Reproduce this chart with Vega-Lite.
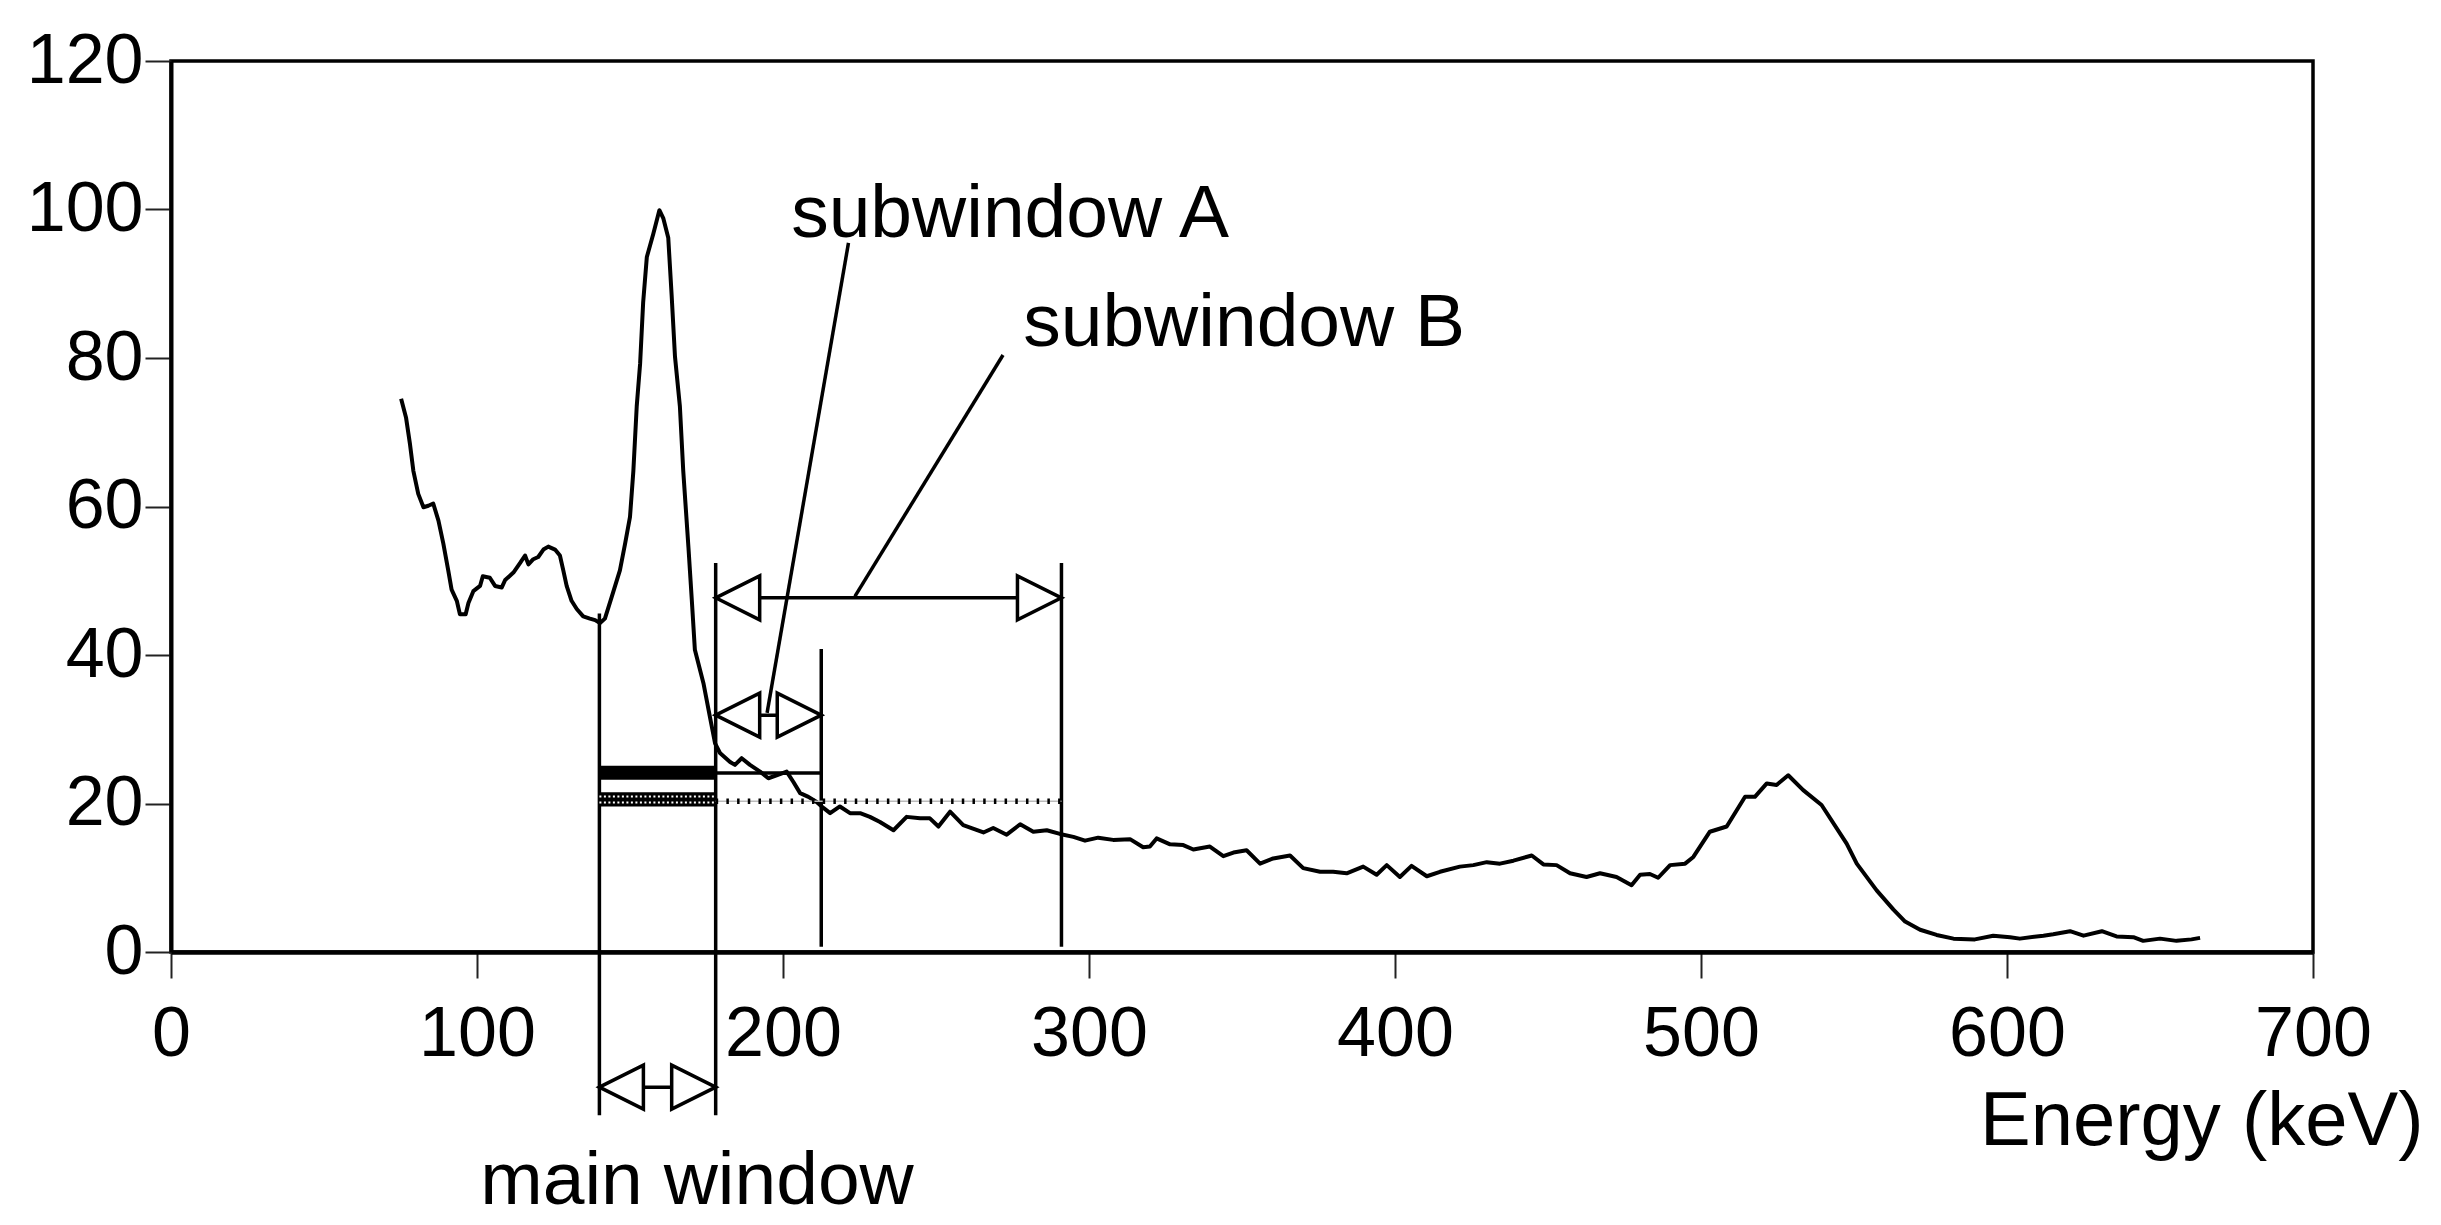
{
  "$schema": "https://vega.github.io/schema/vega-lite/v6.json",
  "autosize": {"type": "none"},
  "width": 2142,
  "height": 891,
  "padding": {"left": 171, "top": 61, "right": 128, "bottom": 273},
  "background": "white",
  "view": {"stroke": "black", "strokeWidth": 3.5},
  "config": {
    "font": "Liberation Sans",
    "axis": {"grid": false, "domainColor": "black", "tickColor": "#222222", "labelColor": "black", "labelFont": "Liberation Sans", "titleFont": "Liberation Sans"}
  },
  "datasets": {
    "spectrum": [
      {"energy": 75.2, "counts": 74.5}, {"energy": 76.8, "counts": 72.0}, {"energy": 78.1, "counts": 68.4}, {"energy": 79.2, "counts": 64.8},
      {"energy": 80.8, "counts": 61.7}, {"energy": 82.5, "counts": 59.9}, {"energy": 84.1, "counts": 60.1}, {"energy": 85.7, "counts": 60.4},
      {"energy": 87.4, "counts": 58.1}, {"energy": 89.0, "counts": 55.0}, {"energy": 90.6, "counts": 51.4}, {"energy": 91.7, "counts": 48.8},
      {"energy": 93.4, "counts": 47.3}, {"energy": 94.4, "counts": 45.5}, {"energy": 96.3, "counts": 45.5}, {"energy": 97.2, "counts": 47.0},
      {"energy": 98.8, "counts": 48.6}, {"energy": 101.0, "counts": 49.3}, {"energy": 101.9, "counts": 50.6}, {"energy": 104.2, "counts": 50.4},
      {"energy": 105.9, "counts": 49.3}, {"energy": 108.1, "counts": 49.1}, {"energy": 109.2, "counts": 50.1}, {"energy": 111.9, "counts": 51.1},
      {"energy": 114.1, "counts": 52.4}, {"energy": 115.7, "counts": 53.4}, {"energy": 116.8, "counts": 52.2}, {"energy": 118.4, "counts": 52.9},
      {"energy": 120.0, "counts": 53.2}, {"energy": 121.7, "counts": 54.2}, {"energy": 123.3, "counts": 54.6}, {"energy": 125.5, "counts": 54.2},
      {"energy": 127.1, "counts": 53.4}, {"energy": 128.2, "counts": 51.4}, {"energy": 129.3, "counts": 49.3}, {"energy": 130.9, "counts": 47.3},
      {"energy": 132.6, "counts": 46.2}, {"energy": 134.7, "counts": 45.2}, {"energy": 136.9, "counts": 44.9}, {"energy": 138.6, "counts": 44.7},
      {"energy": 140.2, "counts": 44.3}, {"energy": 141.8, "counts": 44.9}, {"energy": 144.0, "counts": 47.8}, {"energy": 146.7, "counts": 51.4},
      {"energy": 148.4, "counts": 55.0}, {"energy": 150.0, "counts": 58.6}, {"energy": 151.1, "counts": 64.8}, {"energy": 152.2, "counts": 73.5},
      {"energy": 153.3, "counts": 79.2}, {"energy": 154.3, "counts": 87.5}, {"energy": 155.5, "counts": 93.6}, {"energy": 157.6, "counts": 96.7},
      {"energy": 159.6, "counts": 99.9}, {"energy": 160.9, "counts": 98.8}, {"energy": 162.5, "counts": 96.2}, {"energy": 163.6, "counts": 88.5},
      {"energy": 164.7, "counts": 80.2}, {"energy": 166.3, "counts": 73.5}, {"energy": 167.4, "counts": 64.8}, {"energy": 169.1, "counts": 54.5},
      {"energy": 170.2, "counts": 47.4}, {"energy": 171.2, "counts": 40.7}, {"energy": 174.0, "counts": 36.2}, {"energy": 176.1, "counts": 31.7},
      {"energy": 177.8, "counts": 28.1}, {"energy": 179.4, "counts": 26.8}, {"energy": 182.7, "counts": 25.6}, {"energy": 184.3, "counts": 25.2},
      {"energy": 186.5, "counts": 26.1}, {"energy": 189.2, "counts": 25.2}, {"energy": 192.5, "counts": 24.3}, {"energy": 195.2, "counts": 23.4},
      {"energy": 197.9, "counts": 23.8}, {"energy": 201.2, "counts": 24.3}, {"energy": 203.4, "counts": 22.9}, {"energy": 205.6, "counts": 21.4},
      {"energy": 208.3, "counts": 20.9}, {"energy": 211.0, "counts": 20.2}, {"energy": 213.2, "counts": 19.4}, {"energy": 215.4, "counts": 18.7},
      {"energy": 218.6, "counts": 19.6}, {"energy": 221.9, "counts": 18.7}, {"energy": 225.2, "counts": 18.7}, {"energy": 228.4, "counts": 18.2},
      {"energy": 231.7, "counts": 17.5}, {"energy": 236.1, "counts": 16.4}, {"energy": 240.4, "counts": 18.2}, {"energy": 244.8, "counts": 18.0},
      {"energy": 248.0, "counts": 18.0}, {"energy": 250.8, "counts": 16.9}, {"energy": 254.6, "counts": 18.9}, {"energy": 258.9, "counts": 17.1},
      {"energy": 265.5, "counts": 16.1}, {"energy": 268.7, "counts": 16.7}, {"energy": 273.1, "counts": 15.8}, {"energy": 277.5, "counts": 17.2},
      {"energy": 281.8, "counts": 16.2}, {"energy": 286.2, "counts": 16.4}, {"energy": 290.5, "counts": 15.9}, {"energy": 294.9, "counts": 15.5},
      {"energy": 298.7, "counts": 15.0}, {"energy": 303.0, "counts": 15.4}, {"energy": 307.9, "counts": 15.1}, {"energy": 313.4, "counts": 15.2},
      {"energy": 317.7, "counts": 14.1}, {"energy": 319.9, "counts": 14.2}, {"energy": 322.1, "counts": 15.3}, {"energy": 326.5, "counts": 14.5},
      {"energy": 330.8, "counts": 14.4}, {"energy": 334.1, "counts": 13.8}, {"energy": 339.5, "counts": 14.2}, {"energy": 343.9, "counts": 12.9},
      {"energy": 347.2, "counts": 13.4}, {"energy": 351.5, "counts": 13.7}, {"energy": 355.9, "counts": 11.9}, {"energy": 360.2, "counts": 12.6},
      {"energy": 365.7, "counts": 13.0}, {"energy": 370.0, "counts": 11.3}, {"energy": 375.5, "counts": 10.8}, {"energy": 379.8, "counts": 10.8},
      {"energy": 384.2, "counts": 10.6}, {"energy": 389.6, "counts": 11.5}, {"energy": 394.0, "counts": 10.4}, {"energy": 397.3, "counts": 11.7},
      {"energy": 401.6, "counts": 10.1}, {"energy": 405.4, "counts": 11.6}, {"energy": 410.4, "counts": 10.2}, {"energy": 414.7, "counts": 10.8},
      {"energy": 421.2, "counts": 11.5}, {"energy": 425.6, "counts": 11.7}, {"energy": 430.0, "counts": 12.1}, {"energy": 434.3, "counts": 11.9},
      {"energy": 438.7, "counts": 12.3}, {"energy": 444.7, "counts": 13.0}, {"energy": 448.5, "counts": 11.8}, {"energy": 452.8, "counts": 11.7},
      {"energy": 457.2, "counts": 10.6}, {"energy": 462.6, "counts": 10.1}, {"energy": 467.0, "counts": 10.6}, {"energy": 472.4, "counts": 10.1},
      {"energy": 477.3, "counts": 9.0}, {"energy": 480.1, "counts": 10.4}, {"energy": 483.3, "counts": 10.5}, {"energy": 486.0, "counts": 10.0},
      {"energy": 489.9, "counts": 11.7}, {"energy": 494.8, "counts": 11.9}, {"energy": 497.5, "counts": 12.8}, {"energy": 502.9, "counts": 16.2},
      {"energy": 508.4, "counts": 16.9}, {"energy": 514.4, "counts": 20.9}, {"energy": 517.6, "counts": 20.9}, {"energy": 521.5, "counts": 22.7},
      {"energy": 524.7, "counts": 22.5}, {"energy": 528.5, "counts": 23.8}, {"energy": 533.4, "counts": 21.8}, {"energy": 539.4, "counts": 19.8},
      {"energy": 547.6, "counts": 14.6}, {"energy": 550.9, "counts": 11.9}, {"energy": 557.4, "counts": 8.3}, {"energy": 562.9, "counts": 5.7},
      {"energy": 566.7, "counts": 4.1}, {"energy": 571.6, "counts": 3.0}, {"energy": 577.0, "counts": 2.3}, {"energy": 582.5, "counts": 1.8},
      {"energy": 589.5, "counts": 1.7}, {"energy": 595.5, "counts": 2.2}, {"energy": 601.0, "counts": 2.0}, {"energy": 604.2, "counts": 1.8},
      {"energy": 611.9, "counts": 2.2}, {"energy": 615.1, "counts": 2.4}, {"energy": 620.6, "counts": 2.8}, {"energy": 625.0, "counts": 2.2},
      {"energy": 631.0, "counts": 2.8}, {"energy": 635.8, "counts": 2.1}, {"energy": 641.3, "counts": 2.0}, {"energy": 644.5, "counts": 1.5},
      {"energy": 650.0, "counts": 1.8}, {"energy": 655.4, "counts": 1.5}, {"energy": 660.3, "counts": 1.7}, {"energy": 663.1, "counts": 1.9}
    ],
    "vlines": [
      {"energy": 140, "counts": -22, "counts2": 45.6},
      {"energy": 178, "counts": -22, "counts2": 52.4},
      {"energy": 212.5, "counts": 0.7, "counts2": 40.8},
      {"energy": 291, "counts": 0.7, "counts2": 52.4}
    ],
    "shafts": [
      {"energy": 178, "energy2": 291, "counts": 47.7},
      {"energy": 178, "energy2": 212.5, "counts": 31.9},
      {"energy": 140, "energy2": 178, "counts": -18.2},
      {"energy": 178, "energy2": 212.5, "counts": 24.1}
    ],
    "heads": [
      {"energy": 178, "counts": 47.7, "dir": "left"},
      {"energy": 291, "counts": 47.7, "dir": "right"},
      {"energy": 178, "counts": 31.9, "dir": "left"},
      {"energy": 212.5, "counts": 31.9, "dir": "right"},
      {"energy": 140, "counts": -18.2, "dir": "left"},
      {"energy": 178, "counts": -18.2, "dir": "right"}
    ],
    "leaders": [
      {"energy": 194.8, "counts": 32.2, "energy2": 221.4, "counts2": 95.5},
      {"energy": 223.5, "counts": 47.9, "energy2": 271.9, "counts2": 80.4}
    ],
    "bars": [
      {"energy": 140, "energy2": 178, "counts": 23.2, "counts2": 25.1},
      {"energy": 140, "energy2": 178, "counts": 19.6, "counts2": 21.5}
    ],
    "hatch": [
      {"energy": 140, "energy2": 178, "counts": 20.15},
      {"energy": 140, "energy2": 178, "counts": 20.95}
    ],
    "dotted": [
      {"energy": 178, "energy2": 291, "counts": 20.3}
    ],
    "labels": [
      {"energy": 274.2, "counts": 96.3, "text": "subwindow A"},
      {"energy": 350.7, "counts": 81.6, "text": "subwindow B"},
      {"energy": 171.9, "counts": -34.0, "text": "main window"}
    ]
  },
  "layer": [
    {
      "data": {"name": "spectrum"},
      "mark": {"type": "line", "color": "black", "strokeWidth": 4, "strokeJoin": "round"},
      "encoding": {
        "x": {
          "field": "energy", "type": "quantitative",
          "scale": {"domain": [0, 700], "nice": false, "zero": false},
          "axis": {
            "title": "Energy (keV)", "titleFontSize": 76, "titleFontWeight": "normal", "titleColor": "black",
            "titleAnchor": "end", "titleAlign": "right", "titleBaseline": "alphabetic", "titleX": 2252, "titleY": 192,
            "values": [0, 100, 200, 300, 400, 500, 600, 700],
            "domainWidth": 4.5, "tickWidth": 2, "tickSize": 26,
            "labelFontSize": 70, "labelPadding": 22, "labelFlush": false, "labelOverlap": false, "labelBound": false
          }
        },
        "y": {
          "field": "counts", "type": "quantitative",
          "scale": {"domain": [0, 120], "nice": false, "zero": false},
          "axis": {
            "title": null,
            "values": [0, 20, 40, 60, 80, 100, 120],
            "domainWidth": 4, "tickWidth": 2, "tickSize": 26,
            "labelFontSize": 70, "labelPadding": 2, "labelFlush": false, "labelOverlap": false, "labelBound": false
          }
        }
      }
    },
    {
      "data": {"name": "vlines"},
      "mark": {"type": "rule", "color": "black", "strokeWidth": 3.5},
      "encoding": {
        "x": {"field": "energy", "type": "quantitative"},
        "y": {"field": "counts", "type": "quantitative"},
        "y2": {"field": "counts2"}
      }
    },
    {
      "data": {"name": "bars"},
      "mark": {"type": "rect", "color": "black"},
      "encoding": {
        "x": {"field": "energy", "type": "quantitative"},
        "x2": {"field": "energy2"},
        "y": {"field": "counts", "type": "quantitative"},
        "y2": {"field": "counts2"}
      }
    },
    {
      "data": {"name": "hatch"},
      "mark": {"type": "rule", "color": "white", "strokeWidth": 2, "strokeDash": [2, 2.5]},
      "encoding": {
        "x": {"field": "energy", "type": "quantitative"},
        "x2": {"field": "energy2"},
        "y": {"field": "counts", "type": "quantitative"}
      }
    },
    {
      "data": {"name": "dotted"},
      "mark": {"type": "rule", "color": "#bbbbbb", "strokeWidth": 1.5},
      "encoding": {
        "x": {"field": "energy", "type": "quantitative"},
        "x2": {"field": "energy2"},
        "y": {"field": "counts", "type": "quantitative"}
      }
    },
    {
      "data": {"name": "dotted"},
      "mark": {"type": "rule", "color": "black", "strokeWidth": 5.5, "strokeDash": [2.5, 8.2]},
      "encoding": {
        "x": {"field": "energy", "type": "quantitative"},
        "x2": {"field": "energy2"},
        "y": {"field": "counts", "type": "quantitative"}
      }
    },
    {
      "data": {"name": "shafts"},
      "mark": {"type": "rule", "color": "black", "strokeWidth": 3.5},
      "encoding": {
        "x": {"field": "energy", "type": "quantitative"},
        "x2": {"field": "energy2"},
        "y": {"field": "counts", "type": "quantitative"}
      }
    },
    {
      "data": {"name": "heads"},
      "mark": {"type": "point", "filled": true, "fill": "white", "stroke": "black", "strokeWidth": 3.5, "opacity": 1, "size": 1936},
      "encoding": {
        "x": {"field": "energy", "type": "quantitative"},
        "y": {"field": "counts", "type": "quantitative"},
        "shape": {
          "field": "dir", "type": "nominal", "legend": null,
          "scale": {"domain": ["left", "right"], "range": ["M0,0L2,-1L2,1Z", "M0,0L-2,-1L-2,1Z"]}
        }
      }
    },
    {
      "data": {"name": "leaders"},
      "mark": {"type": "rule", "color": "black", "strokeWidth": 3.5},
      "encoding": {
        "x": {"field": "energy", "type": "quantitative"},
        "x2": {"field": "energy2"},
        "y": {"field": "counts", "type": "quantitative"},
        "y2": {"field": "counts2"}
      }
    },
    {
      "data": {"name": "labels"},
      "mark": {"type": "text", "font": "Liberation Sans", "fontSize": 75, "align": "center", "baseline": "alphabetic", "color": "black"},
      "encoding": {
        "x": {"field": "energy", "type": "quantitative"},
        "y": {"field": "counts", "type": "quantitative"},
        "text": {"field": "text"}
      }
    }
  ]
}
